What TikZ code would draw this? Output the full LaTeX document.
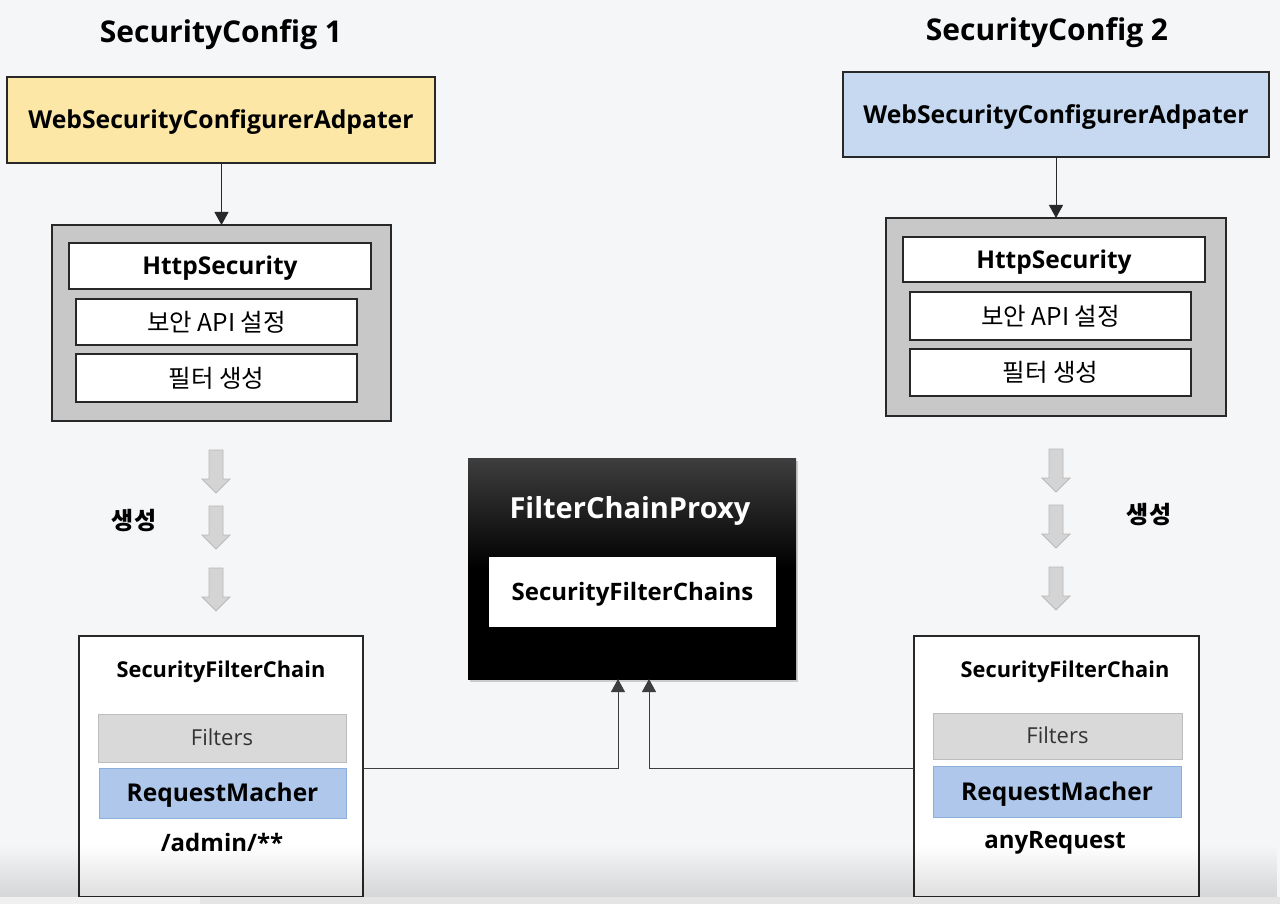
\documentclass[tikz,border=0pt]{standalone}
\usepackage{fontspec}
\setmainfont{Open Sans}
\newfontfamily\kr{Noto Sans CJK KR}
\usetikzlibrary{arrows.meta,shadows,fadings}
\definecolor{bgc}{RGB}{245,246,248}
\definecolor{yel}{RGB}{252,231,166}
\definecolor{blu}{RGB}{198,217,240}
\definecolor{grybox}{RGB}{200,200,200}
\definecolor{filt}{RGB}{217,217,217}
\definecolor{filtb}{RGB}{188,188,188}
\definecolor{rmf}{RGB}{174,199,235}
\definecolor{rmb}{RGB}{140,176,222}
\definecolor{blk}{RGB}{185,185,185}
\definecolor{blkf}{RGB}{212,212,212}
\definecolor{edge}{RGB}{40,40,40}
\tikzset{
  box/.style={draw=edge, line width=1.3pt, inner sep=0pt, outer sep=0pt},
  inner/.style={box, fill=white, line width=1.2pt},
  conn/.style={draw=edge!90, line width=0.9pt, -{Triangle[width=14pt,length=13pt]}},
  blockarr/.style={fill=blkf, draw=blk, line width=0.8pt},
  capctr/.style={text height=#1, text depth=0pt},
  ttl/.style={capctr=21.4pt, font=\fontsize{30}{34}\selectfont\bfseries},
  big/.style={capctr=17.5pt, font=\fontsize{24.5}{29}\selectfont\bfseries},
  krt/.style={font=\kr\fontsize{24.5}{28}\selectfont},
}
\newcommand\blockdown[2]{%
  \draw[blockarr] (#1-7,#2) -- (#1+7,#2) -- (#1+7,#2+29) -- (#1+14,#2+29) -- (#1,#2+43) -- (#1-14,#2+29) -- (#1-7,#2+29) -- cycle;}
\begin{document}
\begin{tikzpicture}[x=1pt,y=-1pt]
\useasboundingbox (0,0) rectangle (1280,904);
\fill[bgc] (0,0) rectangle (1280,904);

% titles
\node[ttl] (t1) at (221,32) {SecurityConfig 1};
\node[ttl] (t2) at (1047,30) {SecurityConfig 2};

% adapters
\node[box, fill=yel, minimum width=428pt, minimum height=86pt, capctr=17.6pt, font=\fontsize{24.7}{29}\selectfont\bfseries] (wa1) at (221,120) {WebSecurityConfigurerAdpater};
\node[box, fill=blu, minimum width=426pt, minimum height=85pt, capctr=17.6pt, font=\fontsize{24.7}{29}\selectfont\bfseries] (wa2) at (1056,114.5) {WebSecurityConfigurerAdpater};

% HttpSecurity containers
\node[box, fill=grybox, minimum width=339pt, minimum height=196pt] (hs1) at (221.5,323) {};
\node[inner, minimum width=302pt, minimum height=46pt, big] (h1) at (220,266) {HttpSecurity};
\node[inner, minimum width=281pt, minimum height=46pt, krt] (a1) at (216.5,322) {보안 API 설정};
\node[inner, minimum width=281pt, minimum height=48pt, krt] (f1) at (216.5,378) {필터 생성};

\node[box, fill=grybox, minimum width=340pt, minimum height=198pt] (hs2) at (1056,317) {};
\node[inner, minimum width=302pt, minimum height=45pt, big] (h2) at (1054,259.5) {HttpSecurity};
\node[inner, minimum width=281pt, minimum height=48pt, krt] (a2) at (1050.5,316) {보안 API 설정};
\node[inner, minimum width=281pt, minimum height=47pt, krt] (f2) at (1050.5,372.5) {필터 생성};

\draw[conn, draw=edge] (wa1.south -| hs1.north) -- (hs1.north);
\draw[conn, draw=edge] (wa2.south) -- (hs2.north);

% block arrows
\blockdown{216}{450}
\blockdown{216}{506}
\blockdown{216}{568}
\blockdown{1056}{449}
\blockdown{1056}{505}
\blockdown{1056}{567}
\node[font=\kr\fontsize{24}{28}\selectfont\bfseries] (g1) at (134,521) {생성};
\node[font=\kr\fontsize{24}{28}\selectfont\bfseries] (g2) at (1149,515) {생성};

% FilterChainProxy
\node[inner sep=0pt, outer sep=0pt, minimum width=328pt, minimum height=221pt,
      top color={rgb,255:red,62;green,62;blue,62}, bottom color=black, middle color=black,
      drop shadow={opacity=0.35, shadow xshift=2pt, shadow yshift=-3pt}] (fcp) at (632,568.5) {};
\node[text=white, capctr=20.7pt, font=\fontsize{29}{33}\selectfont\bfseries] (fcpt) at (630,508) {FilterChainProxy};
\node[fill=white, inner sep=0pt, minimum width=287pt, minimum height=70pt, capctr=17.1pt, font=\fontsize{24}{28}\selectfont\bfseries] (sfcs) at (632.5,592) {SecurityFilterChains};

% SecurityFilterChain boxes
\node[box, fill=white, line width=1.2pt, minimum width=284pt, minimum height=261pt] (sfc1) at (221,766.5) {};
\node[capctr=15.6pt, font=\fontsize{21.8}{26}\selectfont\bfseries] (st1) at (221,670) {SecurityFilterChain};
\node[fill=filt, draw=filtb, line width=0.8pt, minimum width=248pt, minimum height=48pt, inner sep=0pt, capctr=15.7pt, font=\fontsize{22}{26}\selectfont, text=black!80] (fl1) at (222,738) {Filters};
\node[fill=rmf, draw=rmb, line width=0.8pt, minimum width=247pt, minimum height=50pt, inner sep=0pt, big] (rm1) at (222.5,793) {RequestMacher};
\node[capctr=17.1pt, font=\fontsize{24}{28}\selectfont\bfseries] (p1) at (222,843) {/admin/**};

\node[box, fill=white, line width=1.2pt, minimum width=285pt, minimum height=261pt] (sfc2) at (1056.5,766.5) {};
\node[capctr=15.6pt, font=\fontsize{21.8}{26}\selectfont\bfseries] (st2) at (1065,670) {SecurityFilterChain};
\node[fill=filt, draw=filtb, line width=0.8pt, minimum width=249pt, minimum height=46pt, inner sep=0pt, capctr=15.7pt, font=\fontsize{22}{26}\selectfont, text=black!80] (fl2) at (1057.5,736) {Filters};
\node[fill=rmf, draw=rmb, line width=0.8pt, minimum width=248pt, minimum height=51pt, inner sep=0pt, big] (rm2) at (1057,791.5) {RequestMacher};
\node[capctr=17.1pt, font=\fontsize{24}{28}\selectfont\bfseries] (p2) at (1055,840) {anyRequest};

% connectors to FilterChainProxy
\coordinate (j1) at (618,768);
\coordinate (j2) at (649,768);
\draw[conn] (sfc1.east |- j1) -- (j1) -- (fcp.south -| j1);
\draw[conn] (sfc2.west |- j2) -- (j2) -- (fcp.south -| j2);

% bottom player overlay
\fill[black, opacity=0.13, path fading=north] (0,845) rectangle (1280,897);
\fill[black!10] (0,897) rectangle (1280,904);
\fill[black!6] (0,897) rectangle (200,904);
\end{tikzpicture}
\end{document}
